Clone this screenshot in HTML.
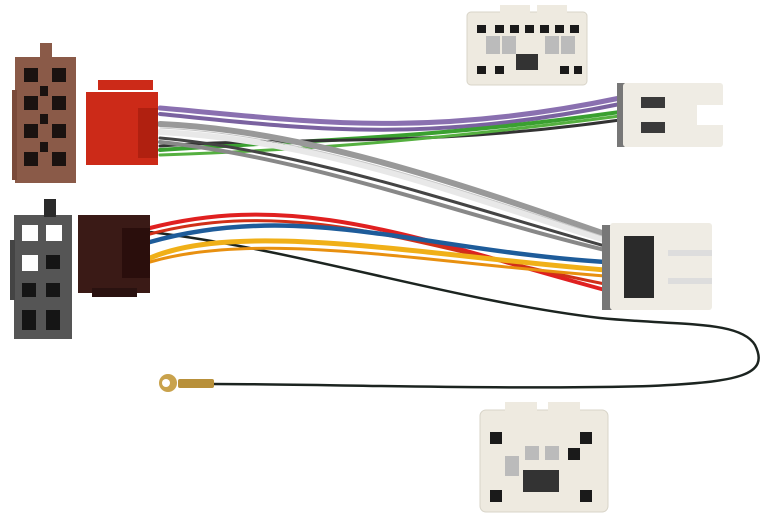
<!DOCTYPE html>
<html><head><style>html,body{margin:0;padding:0;background:#fff;width:768px;height:524px;overflow:hidden}</style></head>
<body>
<svg width="768" height="524" viewBox="0 0 768 524" xmlns="http://www.w3.org/2000/svg">
<!-- black ground wire -->
<path d="M150,232 C300,250 450,300 600,318 C680,326 740,320 755,345 C770,375 740,382 650,386 C500,390 320,384 212,384" fill="none" stroke="#1c2420" stroke-width="2.5"/>
<!-- ring terminal -->
<rect x="178" y="379" width="36" height="9" rx="2" fill="#b8903a"/>
<circle cx="168" cy="383" r="9" fill="#c9a24c"/>
<circle cx="166" cy="383" r="4" fill="#fff"/>
<!-- wires red connector to top-right -->
<g fill="none" stroke-linecap="round">
<path d="M160,108 C300,120 420,140 620,98" stroke="#8a70b0" stroke-width="5"/>
<path d="M160,114 C300,128 420,145 620,104" stroke="#7a62a0" stroke-width="4"/>
<path d="M160,150 C300,140 420,140 620,112" stroke="#3aa030" stroke-width="4"/>
<path d="M160,146 C300,136 420,148 620,120" stroke="#333" stroke-width="3"/>
<path d="M160,155 C300,150 420,142 620,116" stroke="#55b040" stroke-width="3"/>
<!-- gray/white to middle-right -->
<path d="M160,124 C300,130 450,180 605,234" stroke="#999" stroke-width="6"/>
<path d="M160,132 C320,140 460,195 605,240" stroke="#e8e8e8" stroke-width="6"/>
<path d="M160,128 C300,134 450,186 605,237" stroke="#c8c8c8" stroke-width="1"/>
<path d="M160,138 C300,150 460,205 605,246" stroke="#444" stroke-width="3"/>
<path d="M160,142 C310,158 460,215 605,250" stroke="#888" stroke-width="4"/>
<!-- colored wires to middle -->
<path d="M150,228 C300,190 420,240 605,290" stroke="#e02020" stroke-width="4"/>
<path d="M150,234 C300,195 430,250 605,284" stroke="#d03018" stroke-width="3"/>
<path d="M150,242 C300,200 420,250 605,262" stroke="#1e5c9a" stroke-width="4.5"/>
<path d="M150,258 C240,220 420,255 605,270" stroke="#f0b018" stroke-width="5"/>
<path d="M150,262 C260,230 420,262 605,276" stroke="#e89010" stroke-width="3"/>
</g>
<!-- brown connector -->
<g>
<rect x="15" y="57" width="61" height="126" fill="#8a5a48"/>
<rect x="40" y="43" width="12" height="16" fill="#8a5a48"/>
<rect x="12" y="90" width="5" height="90" fill="#7a4a3a"/>
<g fill="#1a1210">
<rect x="24" y="68" width="14" height="14"/><rect x="52" y="68" width="14" height="14"/>
<rect x="24" y="96" width="14" height="14"/><rect x="52" y="96" width="14" height="14"/>
<rect x="24" y="124" width="14" height="14"/><rect x="52" y="124" width="14" height="14"/>
<rect x="24" y="152" width="14" height="14"/><rect x="52" y="152" width="14" height="14"/>
<rect x="40" y="86" width="8" height="10"/><rect x="40" y="114" width="8" height="10"/><rect x="40" y="142" width="8" height="10"/>
</g>
</g>
<!-- red connector -->
<rect x="86" y="92" width="72" height="73" fill="#cc2a18"/>
<rect x="98" y="80" width="55" height="10" fill="#cc2a18"/>
<rect x="138" y="108" width="20" height="50" fill="#b02010"/>
<!-- black ISO connector -->
<g>
<rect x="14" y="215" width="58" height="124" fill="#555"/>
<rect x="44" y="199" width="12" height="18" fill="#2a2a2a"/>
<rect x="10" y="240" width="5" height="60" fill="#444"/>
<g fill="#fff"><rect x="22" y="225" width="16" height="16"/><rect x="46" y="225" width="16" height="16"/><rect x="22" y="255" width="16" height="16"/></g>
<g fill="#151515">
<rect x="46" y="255" width="14" height="14"/><rect x="22" y="283" width="14" height="14"/><rect x="46" y="283" width="14" height="14"/>
<rect x="22" y="310" width="14" height="20"/><rect x="46" y="310" width="14" height="20"/>
</g>
</g>
<!-- dark brown connector -->
<rect x="78" y="215" width="72" height="78" fill="#3a1a16"/>
<rect x="122" y="228" width="28" height="50" fill="#2a0e0c"/>
<rect x="92" y="288" width="45" height="9" fill="#2a1210"/>
<!-- top white connector -->
<g>
<rect x="467" y="12" width="120" height="73" rx="4" fill="#eeeae0" stroke="#d8d4c8"/>
<rect x="500" y="5" width="30" height="10" fill="#eeeae0"/>
<rect x="537" y="5" width="30" height="10" fill="#eeeae0"/>
<g fill="#1a1a1a">
<rect x="477" y="25" width="9" height="8"/><rect x="495" y="25" width="9" height="8"/><rect x="510" y="25" width="9" height="8"/><rect x="525" y="25" width="9" height="8"/><rect x="540" y="25" width="9" height="8"/><rect x="555" y="25" width="9" height="8"/><rect x="570" y="25" width="9" height="8"/>
<rect x="516" y="54" width="22" height="16" fill="#333"/>
<rect x="477" y="66" width="9" height="8"/><rect x="495" y="66" width="9" height="8"/><rect x="560" y="66" width="9" height="8"/><rect x="574" y="66" width="8" height="8"/>
</g>
<g fill="#bbb"><rect x="486" y="36" width="14" height="18"/><rect x="502" y="36" width="14" height="18"/><rect x="545" y="36" width="14" height="18"/><rect x="561" y="36" width="14" height="18"/></g>
</g>
<!-- top-right white connector -->
<rect x="617" y="83" width="8" height="64" fill="#777"/>
<rect x="623" y="83" width="100" height="64" rx="3" fill="#efece4"/>
<rect x="697" y="105" width="26" height="20" fill="#fff"/>
<rect x="641" y="97" width="24" height="11" fill="#3a3a3a"/>
<rect x="641" y="122" width="24" height="11" fill="#3a3a3a"/>
<!-- middle-right white connector -->
<rect x="602" y="225" width="10" height="85" fill="#777"/>
<rect x="610" y="223" width="102" height="87" rx="3" fill="#efece4"/>
<rect x="624" y="236" width="30" height="62" fill="#2a2a2a"/>
<rect x="668" y="250" width="44" height="6" fill="#ddd"/>
<rect x="668" y="278" width="44" height="6" fill="#ddd"/>
<!-- bottom connector -->
<g>
<rect x="480" y="410" width="128" height="102" rx="6" fill="#eeeae0" stroke="#d8d4c8"/>
<rect x="505" y="402" width="32" height="16" fill="#eeeae0"/>
<rect x="548" y="402" width="32" height="16" fill="#eeeae0"/>
<g fill="#1a1a1a">
<rect x="490" y="432" width="12" height="12"/><rect x="580" y="432" width="12" height="12"/>
<rect x="568" y="448" width="12" height="12"/>
<rect x="523" y="470" width="36" height="22" fill="#333"/>
<rect x="490" y="490" width="12" height="12"/><rect x="580" y="490" width="12" height="12"/>
</g>
<g fill="#bbb"><rect x="505" y="456" width="14" height="20"/><rect x="525" y="446" width="14" height="14"/><rect x="545" y="446" width="14" height="14"/></g>
</g>
</svg>
</body></html>
